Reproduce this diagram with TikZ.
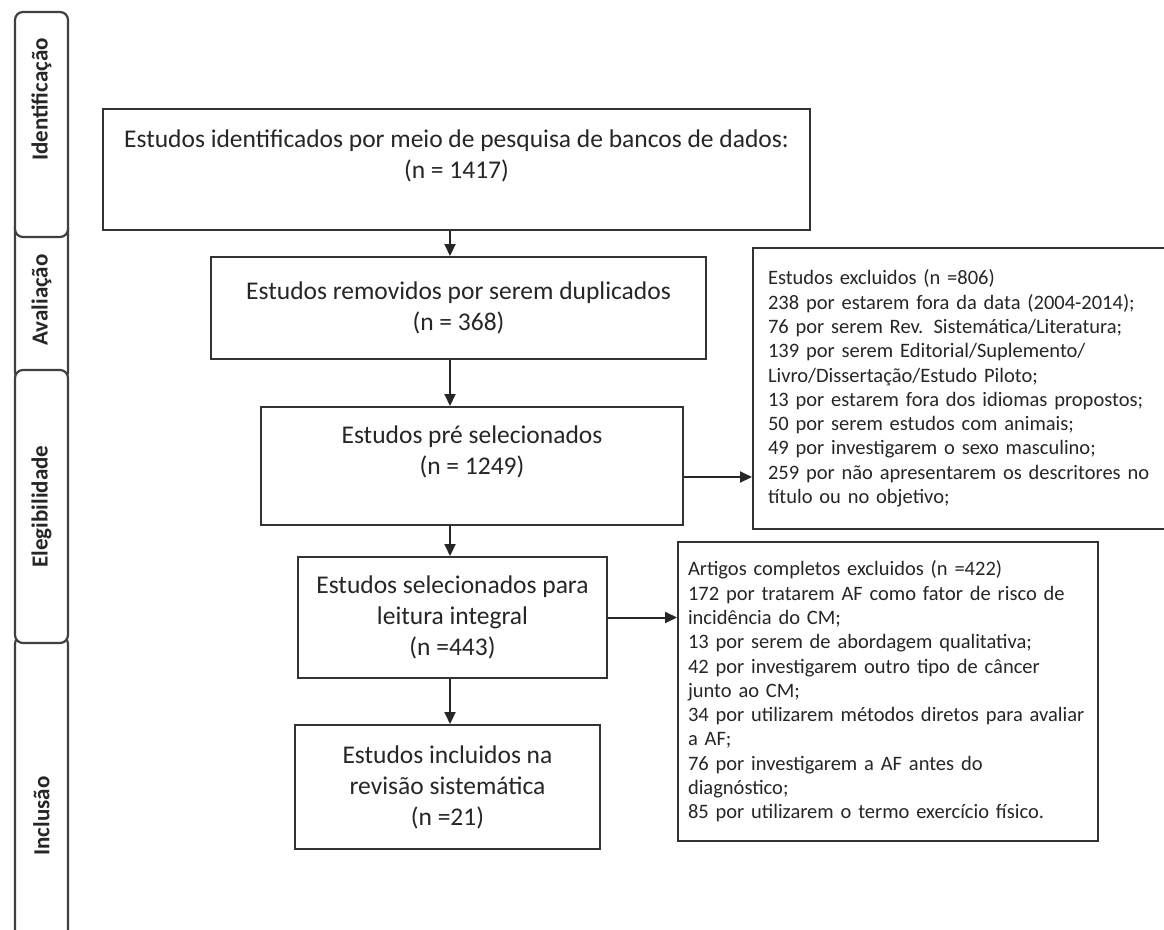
\documentclass[tikz,border=0pt]{standalone}
\usepackage{fontspec}
\setmainfont{Carlito}
\usetikzlibrary{arrows.meta}

\newcommand{\boxfont}{\fontsize{25.5}{31}\selectfont}
\newcommand{\listfont}{\fontsize{20.5}{24.3}\selectfont}
\newcommand{\tabfont}{\fontsize{23}{26}\selectfont\bfseries}

\begin{document}
\begin{tikzpicture}
		[x=1pt,y=-1pt,
		%Styles
		stage box/.style={draw=black!80,line width=2pt,align=center,font=\boxfont,text=black!85,inner sep=0pt},
		excl box/.style={draw=black!80,line width=2pt,align=left,font=\listfont,text=black!85,inner ysep=0pt,anchor=north west},
		tab/.style={draw=black!75,line width=2.2pt,rounded corners=8pt,fill=white,rotate=90,font=\tabfont,text=black!85,minimum height=53pt,inner sep=0pt},
		flow/.style={line width=2pt,draw=black!85,-{Triangle[length=12pt,width=11pt]}}
		]
		
		\useasboundingbox (0,0) rectangle (1164,929);
		\fill[white] (0,0) rectangle (1164,929);
		
		%Stages on the left
		\node[tab,minimum width=160pt] (tabAval) at (41.5,300) {Avaliação};
		\node[tab,minimum width=360pt] (tabIncl) at (41.5,816) {Inclusão};
		\node[tab,minimum width=225pt] (tabIdent) at (41.5,124.5) {\hspace*{50pt}Identificação};
		\node[tab,minimum width=273pt] (tabEleg) at (41.5,506.5) {Elegibilidade};
		
		%The graphic
		\coordinate (axis) at (450,0);
		\node[stage box,minimum width=707pt,minimum height=121pt] (ident) at (456.5,169.5)
			{Estudos identificados por meio de pesquisa de bancos de dados:\\(n = 1417)\\\mbox{}};
		\node[stage box,minimum width=495pt,minimum height=102pt] (dupl) at (458.5,308)
			{Estudos removidos por serem duplicados\\(n = 368)};
		\node[stage box,minimum width=422pt,minimum height=118pt] (presel) at (472,466)
			{Estudos pré selecionados\\(n = 1249)\\\mbox{}};
		\node[stage box,minimum width=309pt,minimum height=121pt] (selec) at (452.5,617.5)
			{Estudos selecionados para\\leitura integral\\(n =443)};
		\node[stage box,minimum width=305pt,minimum height=124pt] (incl) at (447.5,787)
			{Estudos incluidos na\\revisão sistemática\\(n =21)};
		
		\node[excl box,minimum width=430pt,minimum height=281pt,text width=400pt,inner xsep=15pt] (excA) at (752,247)
			{Estudos excluidos (n =806)\\
			238 por estarem fora da data (2004-2014);\\
			76 por serem Rev. Sistemática/Literatura;\\
			139 por serem Editorial/Suplemento/\\
			Livro/Dissertação/Estudo Piloto;\\
			13 por estarem fora dos idiomas propostos;\\
			50 por serem estudos com animais;\\
			49 por investigarem o sexo masculino;\\
			259 por não apresentarem os descritores no\\
			título ou no objetivo;};
		\node[excl box,minimum width=420pt,minimum height=299pt,text width=400pt,inner xsep=10pt] (excB) at (677,541)
			{Artigos completos excluidos (n =422)\\
			172 por tratarem AF como fator de risco de\\
			incidência do CM;\\
			13 por serem de abordagem qualitativa;\\
			42 por investigarem outro tipo de câncer\\
			junto ao CM;\\
			34 por utilizarem métodos diretos para avaliar\\
			a AF;\\
			76 por investigarem a AF antes do\\
			diagnóstico;\\
			85 por utilizarem o termo exercício físico.};
		
		\path
			(ident.south -| axis)	edge[flow]	(dupl.north -| axis)
			(dupl.south -| axis)	edge[flow]	(presel.north -| axis)
			(presel.south -| axis)	edge[flow]	(selec.north -| axis)
			(selec.south -| axis)	edge[flow]	(incl.north -| axis)
			([yshift=-11pt]presel.east)	edge[flow]	([yshift=-11pt]presel.east -| excA.west)
			(selec.east)	edge[flow]	(selec.east -| excB.west);
	\end{tikzpicture}
\end{document}
